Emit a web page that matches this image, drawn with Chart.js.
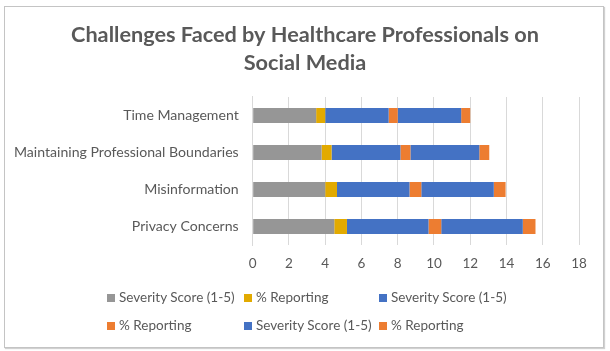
<!DOCTYPE html>
<html>
<head>
<meta charset="utf-8">
<script src="https://cdn.jsdelivr.net/npm/chart.js@4"></script>
<style>
    html, body { margin: 0; padding: 0; background: #fff; }
    #wrap { position: relative; width: 610px; height: 351px; overflow: hidden; }
    #frame { position: absolute; left: 4px; top: 6px; width: 598px; height: 340px;
             border: 1px solid #c4c4c4; box-shadow: 1px 1px 1px rgba(0,0,0,0.18); }
    #chartBox { position: absolute; left: 0; top: 0; width: 610px; height: 351px; }
    .lg { position: absolute; height: 16px; line-height: 16px; white-space: nowrap;
          font-family: Lato, 'Open Sans', sans-serif; font-size: 13.5px; color: #595959; }
    .lg i { display: inline-block; width: 8px; height: 8px; margin-right: 4px; vertical-align: 0px; }
</style>
</head>
<body>
<div id="wrap">
    <div id="frame"></div>
    <div id="chartBox"><canvas id="challengeChart" width="610" height="351"></canvas></div>
    <div id="legendBox"></div>
</div>
<script>
// ========== CHALLENGES FACED BY HEALTHCARE PROFESSIONALS — stacked bars ==========
var categories = ['Privacy Concerns', 'Misinformation', 'Maintaining Professional Boundaries', 'Time Management'];

var severity1  = [4.5, 4.0, 3.8, 3.5];
var reporting1 = [0.7, 0.65, 0.55, 0.5];
var severity2  = [4.5, 4.0, 3.8, 3.5];
var reporting2 = [0.7, 0.65, 0.55, 0.5];
var severity3  = [4.5, 4.0, 3.8, 3.5];
var reporting3 = [0.7, 0.65, 0.55, 0.5];

var xTicks = [0, 2, 4, 6, 8, 10, 12, 14, 16, 18];

var titleLines = ['Challenges Faced by Healthcare Professionals on', 'Social Media'];

var seriesNames  = ['Severity Score (1-5)', '% Reporting', 'Severity Score (1-5)', '% Reporting', 'Severity Score (1-5)', '% Reporting'];
var seriesColors = ['#969696', '#E2AA00', '#4472C4', '#ED7D31', '#4472C4', '#ED7D31'];
var seriesData   = [severity1, reporting1, severity2, reporting2, severity3, reporting3];

var FONT = "Lato, 'Open Sans', sans-serif";
var TEXT = '#595959';

var datasets = seriesData.map(function(d, i) {
    return {
        label: seriesNames[i],
        data: d,
        backgroundColor: seriesColors[i],
        borderWidth: 0,
        categoryPercentage: 1,
        barPercentage: 0.41
    };
});

var chart = new Chart(document.getElementById('challengeChart').getContext('2d'), {
    type: 'bar',
    data: { labels: categories, datasets: datasets },
    options: {
        indexAxis: 'y',
        responsive: false,
        animation: false,
        layout: { padding: 0 },
        plugins: {
            legend: { display: false },
            tooltip: { enabled: false },
            title: {
                display: true,
                text: titleLines,
                color: TEXT,
                font: { family: FONT, size: 21.7, weight: 'bold', lineHeight: 1.29 },
                padding: { top: 21, bottom: 20 }
            }
        },
        scales: {
            x: {
                stacked: true,
                min: 0, max: 18,
                afterBuildTicks: function(s) { s.ticks = xTicks.map(function(v) { return { value: v }; }); },
                afterFit: function(s) { s.height = 106; },
                ticks: { color: TEXT, font: { family: FONT, size: 13.5 }, padding: 11 },
                grid: { color: '#d9d9d9', drawTicks: false },
                border: { display: false }
            },
            y: {
                stacked: true,
                reverse: true,
                afterFit: function(s) { s.width = 252.7; },
                ticks: { color: TEXT, font: { family: FONT, size: 14.1 }, padding: 14 },
                grid: { display: false, drawTicks: false },
                border: { color: '#d9d9d9' }
            },
            // empty right-hand spacer so the plot ends at 18 while the title stays centred
            spacer: {
                type: 'linear',
                axis: 'y',
                position: 'right',
                afterFit: function(s) { s.width = 31; },
                ticks: { display: false },
                grid: { display: false, drawTicks: false },
                border: { display: false }
            }
        }
    }
});

// legend laid out in Excel-like columns
var legendCols = [107, 244, 379];
var legendRows = [289, 317];
var box = document.getElementById('legendBox');
chart.data.datasets.forEach(function(ds, i) {
    var el = document.createElement('div');
    el.className = 'lg';
    el.style.left = legendCols[i % 3] + 'px';
    el.style.top = legendRows[Math.floor(i / 3)] + 'px';
    el.innerHTML = '<i style="background:' + ds.backgroundColor + '"></i>' + ds.label;
    box.appendChild(el);
});
</script>
</body>
</html>
